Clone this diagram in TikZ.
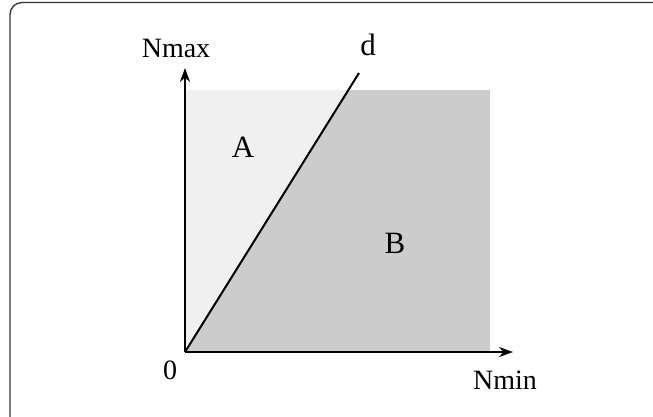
\documentclass[tikz,border=0pt]{standalone}
\usepackage{fontspec}
\setmainfont{Liberation Serif}
\usetikzlibrary{arrows.meta}
\definecolor{lightfill}{HTML}{F0F0F0}
\definecolor{darkfill}{HTML}{CCCCCC}
\definecolor{framecol}{HTML}{333333}
\begin{document}
\begin{tikzpicture}[x=1pt,y=-1pt,
  lbl/.style={inner sep=0pt,font=\fontsize{28}{32}\selectfont},
  biglbl/.style={inner sep=0pt,font=\fontsize{31}{35}\selectfont},
  axis/.style={line width=2pt,-{Stealth[length=14pt,width=10pt]}},
  dline/.style={line width=2pt}]
\useasboundingbox (0,0) rectangle (653,416);
\clip (0,0) rectangle (653,416);
\draw[framecol,line width=1.3pt,rounded corners=12pt] (10,2.5) rectangle (690,440);
\coordinate (O) at (185,352);
\coordinate (Ytip) at (185,68);
\coordinate (Xtip) at (513,352);
\coordinate (Dend) at (359,73);
\coordinate (Dtop) at (348,90);
\coordinate (TR) at (490,90);
\coordinate (BR) at (490,352);
\coordinate (TL) at (185,90);
\fill[lightfill] (TL) rectangle (BR);
\fill[darkfill] (O) -- (Dtop) -- (TR) -- (BR) -- cycle;
\draw[dline] (O) -- (Dend);
\draw[axis] (O) -- (Ytip);
\draw[axis] (O) -- (Xtip);
\node[lbl] (nmax) at (176,48) {Nmax};
\node[biglbl] (d) at (368,45) {d};
\node[lbl] (zero) at (170,370) {0};
\node[lbl] (nmin) at (505,380) {Nmin};
\node[biglbl] (A) at (243,147) {A};
\node[biglbl] (B) at (395,243) {B};
\end{tikzpicture}
\end{document}
